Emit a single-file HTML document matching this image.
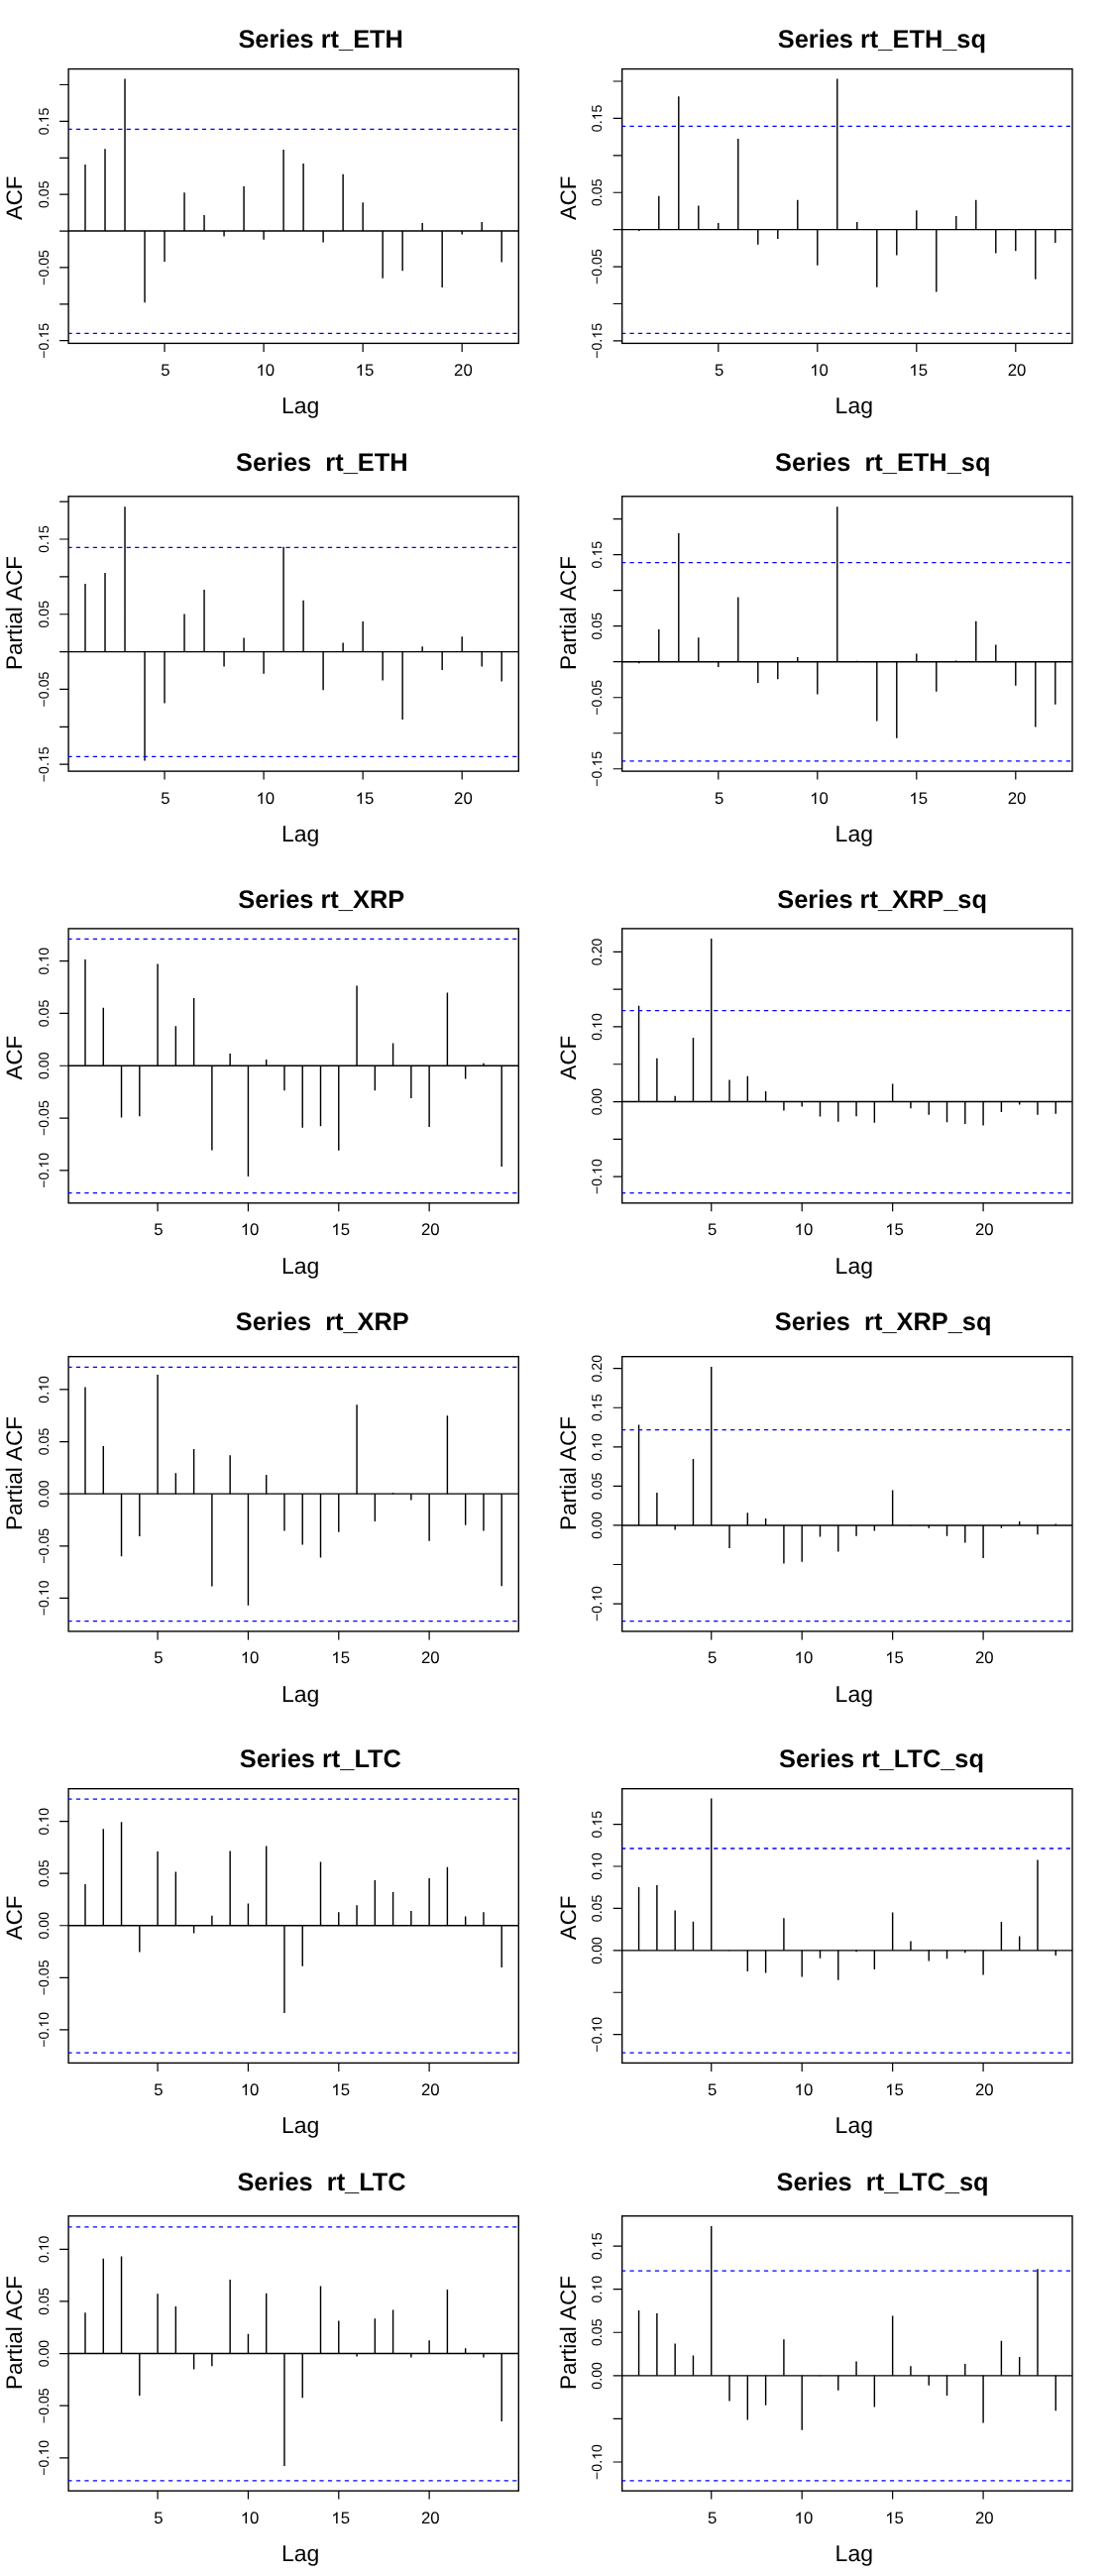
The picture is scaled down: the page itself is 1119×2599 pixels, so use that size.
<!DOCTYPE html><html><head><meta charset="utf-8"><style>html,body{margin:0;padding:0;background:#fff;}svg{display:block;}text{font-family:"Liberation Sans",sans-serif;}</style></head><body>
<svg width="1119" height="2599" viewBox="0 0 1119 2599" style="will-change:transform;text-rendering:geometricPrecision">
<rect width="1119" height="2599" fill="#fff"/>
<g><line x1="69.1" y1="233.05" x2="523.3" y2="233.05" stroke="#000" stroke-width="1.42"/><path d="M86 233.05V166M106.01 233.05V150.2M126.02 233.05V79.5M146.03 233.05V305.2M166.04 233.05V264M186.05 233.05V194.2M206.06 233.05V216.9M226.07 233.05V238.5M246.08 233.05V187.9M266.09 233.05V241.8M286.1 233.05V151.1M306.11 233.05V165M326.12 233.05V244.6M346.13 233.05V175.8M366.14 233.05V204.3M386.15 233.05V280.7M406.16 233.05V273.2M426.17 233.05V225.1M446.18 233.05V290M466.19 233.05V236.4M486.2 233.05V224M506.21 233.05V264.5" stroke="#000" stroke-width="1.42" fill="none"/><rect x="69.1" y="69.6" width="454.2" height="276.8" fill="none" stroke="#000" stroke-width="1.38"/><clipPath id="c3"><rect x="68.85" y="69.6" width="454.45" height="276.8"/></clipPath><line clip-path="url(#c3)" x1="68.4" y1="130.36" x2="523.3" y2="130.36" stroke="#0000ff" stroke-width="1.3" stroke-dasharray="4.2335 4.2335"/><line clip-path="url(#c3)" x1="68.4" y1="336.3" x2="523.3" y2="336.3" stroke="#0000ff" stroke-width="1.3" stroke-dasharray="4.2335 4.2335"/><path d="M60.1 85.51H69.1M60.1 122.39H69.1M60.1 159.28H69.1M60.1 196.16H69.1M60.1 233.05H69.1M60.1 269.94H69.1M60.1 306.82H69.1M60.1 343.71H69.1M166.04 346.4V354.9M266.09 346.4V354.9M366.14 346.4V354.9M466.19 346.4V354.9" stroke="#000" stroke-width="1.2" fill="none"/><g transform="translate(49 122.39) rotate(-90)"><text text-anchor="middle" font-size="14.2">0. 5</text><path transform="translate(-1.98 0) scale(0.006934 -0.006934)" d="M763 0L583 0L583 1102.4 Q518 1042.8 412.5 983.2 Q307 923.6 223 893.8 L223 1061.1 Q374 1129.3 484.5 1224.0 Q595 1318.7 645 1409.0 L763 1409.0Z"/></g><g transform="translate(49 196.16) rotate(-90)"><text text-anchor="middle" font-size="14.2">0.05</text></g><g transform="translate(49 269.94) rotate(-90)"><text text-anchor="middle" font-size="14.2">−0.05</text></g><g transform="translate(49 343.71) rotate(-90)"><text text-anchor="middle" font-size="14.2">−0. 5</text><path transform="translate(2.17 0) scale(0.006934 -0.006934)" d="M763 0L583 0L583 1102.4 Q518 1042.8 412.5 983.2 Q307 923.6 223 893.8 L223 1061.1 Q374 1129.3 484.5 1224.0 Q595 1318.7 645 1409.0 L763 1409.0Z"/></g><text x="166.84" y="379" text-anchor="middle" font-size="16.8">5</text><text x="267.79" y="379" text-anchor="middle" font-size="16.8"> 0</text><path transform="translate(258.45 379) scale(0.008203 -0.008203)" d="M763 0L583 0L583 1102.4 Q518 1042.8 412.5 983.2 Q307 923.6 223 893.8 L223 1061.1 Q374 1129.3 484.5 1224.0 Q595 1318.7 645 1409.0 L763 1409.0Z"/><text x="368.04" y="379" text-anchor="middle" font-size="16.8"> 5</text><path transform="translate(358.7 379) scale(0.008203 -0.008203)" d="M763 0L583 0L583 1102.4 Q518 1042.8 412.5 983.2 Q307 923.6 223 893.8 L223 1061.1 Q374 1129.3 484.5 1224.0 Q595 1318.7 645 1409.0 L763 1409.0Z"/><text x="467.39" y="379" text-anchor="middle" font-size="16.8">20</text><text x="283.96" y="417" font-size="23.0">Lag</text><text transform="translate(21.9 222.1) rotate(-90)" font-size="22.3" style="font-kerning:none">ACF</text><text x="240.41" y="48" font-size="25.4" font-weight="bold" xml:space="preserve">Series rt_ETH</text></g>
<g><line x1="627.7" y1="231.65" x2="1082" y2="231.65" stroke="#000" stroke-width="1.42"/><path d="M644.8 231.65V233.1M664.8 231.65V197.8M684.8 231.65V97.2M704.8 231.65V207.4M724.8 231.65V224.9M744.8 231.65V140.1M764.8 231.65V246.8M784.8 231.65V240.9M804.8 231.65V201.7M824.8 231.65V267.7M844.8 231.65V79.5M864.8 231.65V224M884.8 231.65V289.8M904.8 231.65V257.6M924.8 231.65V212.3M944.8 231.65V294.4M964.8 231.65V218M984.8 231.65V201.7M1004.8 231.65V255.4M1024.8 231.65V253.2M1044.8 231.65V281.8M1064.8 231.65V245" stroke="#000" stroke-width="1.42" fill="none"/><rect x="627.7" y="69.6" width="454.3" height="276.8" fill="none" stroke="#000" stroke-width="1.38"/><clipPath id="c4"><rect x="627.45" y="69.6" width="454.55" height="276.8"/></clipPath><line clip-path="url(#c4)" x1="627" y1="127.45" x2="1082" y2="127.45" stroke="#0000ff" stroke-width="1.3" stroke-dasharray="4.2335 4.2335"/><line clip-path="url(#c4)" x1="627" y1="336.4" x2="1082" y2="336.4" stroke="#0000ff" stroke-width="1.3" stroke-dasharray="4.2335 4.2335"/><path d="M618.7 81.99H627.7M618.7 119.41H627.7M618.7 156.82H627.7M618.7 194.24H627.7M618.7 231.65H627.7M618.7 269.06H627.7M618.7 306.48H627.7M618.7 343.89H627.7M724.8 346.4V354.9M824.8 346.4V354.9M924.8 346.4V354.9M1024.8 346.4V354.9" stroke="#000" stroke-width="1.2" fill="none"/><g transform="translate(607.3 119.41) rotate(-90)"><text text-anchor="middle" font-size="14.2">0. 5</text><path transform="translate(-1.98 0) scale(0.006934 -0.006934)" d="M763 0L583 0L583 1102.4 Q518 1042.8 412.5 983.2 Q307 923.6 223 893.8 L223 1061.1 Q374 1129.3 484.5 1224.0 Q595 1318.7 645 1409.0 L763 1409.0Z"/></g><g transform="translate(607.3 194.24) rotate(-90)"><text text-anchor="middle" font-size="14.2">0.05</text></g><g transform="translate(607.3 269.06) rotate(-90)"><text text-anchor="middle" font-size="14.2">−0.05</text></g><g transform="translate(607.3 343.89) rotate(-90)"><text text-anchor="middle" font-size="14.2">−0. 5</text><path transform="translate(2.17 0) scale(0.006934 -0.006934)" d="M763 0L583 0L583 1102.4 Q518 1042.8 412.5 983.2 Q307 923.6 223 893.8 L223 1061.1 Q374 1129.3 484.5 1224.0 Q595 1318.7 645 1409.0 L763 1409.0Z"/></g><text x="725.6" y="379" text-anchor="middle" font-size="16.8">5</text><text x="826.5" y="379" text-anchor="middle" font-size="16.8"> 0</text><path transform="translate(817.16 379) scale(0.008203 -0.008203)" d="M763 0L583 0L583 1102.4 Q518 1042.8 412.5 983.2 Q307 923.6 223 893.8 L223 1061.1 Q374 1129.3 484.5 1224.0 Q595 1318.7 645 1409.0 L763 1409.0Z"/><text x="926.7" y="379" text-anchor="middle" font-size="16.8"> 5</text><path transform="translate(917.36 379) scale(0.008203 -0.008203)" d="M763 0L583 0L583 1102.4 Q518 1042.8 412.5 983.2 Q307 923.6 223 893.8 L223 1061.1 Q374 1129.3 484.5 1224.0 Q595 1318.7 645 1409.0 L763 1409.0Z"/><text x="1026" y="379" text-anchor="middle" font-size="16.8">20</text><text x="842.61" y="417" font-size="23.0">Lag</text><text transform="translate(580.8 222.1) rotate(-90)" font-size="22.3" style="font-kerning:none">ACF</text><text x="784.71" y="48" font-size="25.4" font-weight="bold" xml:space="preserve">Series rt_ETH_sq</text></g>
<g><line x1="69.1" y1="657.6" x2="523.3" y2="657.6" stroke="#000" stroke-width="1.42"/><path d="M86 657.6V588.9M106.01 657.6V578.1M126.02 657.6V511.2M146.03 657.6V767.6M166.04 657.6V709.6M186.05 657.6V619.4M206.06 657.6V595M226.07 657.6V672.4M246.08 657.6V643.6M266.09 657.6V679.8M286.1 657.6V551.7M306.11 657.6V605.8M326.12 657.6V696.2M346.13 657.6V648.6M366.14 657.6V627M386.15 657.6V686.5M406.16 657.6V725.9M426.17 657.6V652.3M446.18 657.6V676.1M466.19 657.6V642.3M486.2 657.6V672.4M506.21 657.6V687.6" stroke="#000" stroke-width="1.42" fill="none"/><rect x="69.1" y="500.8" width="454.2" height="277.3" fill="none" stroke="#000" stroke-width="1.38"/><clipPath id="c5"><rect x="68.85" y="500.8" width="454.45" height="277.3"/></clipPath><line clip-path="url(#c5)" x1="68.4" y1="552.4" x2="523.3" y2="552.4" stroke="#0000ff" stroke-width="1.3" stroke-dasharray="4.2335 4.2335"/><line clip-path="url(#c5)" x1="68.4" y1="763.4" x2="523.3" y2="763.4" stroke="#0000ff" stroke-width="1.3" stroke-dasharray="4.2335 4.2335"/><path d="M60.1 506.11H69.1M60.1 543.99H69.1M60.1 581.86H69.1M60.1 619.73H69.1M60.1 657.6H69.1M60.1 695.47H69.1M60.1 733.34H69.1M60.1 771.21H69.1M166.04 778.1V786.6M266.09 778.1V786.6M366.14 778.1V786.6M466.19 778.1V786.6" stroke="#000" stroke-width="1.2" fill="none"/><g transform="translate(49 543.99) rotate(-90)"><text text-anchor="middle" font-size="14.2">0. 5</text><path transform="translate(-1.98 0) scale(0.006934 -0.006934)" d="M763 0L583 0L583 1102.4 Q518 1042.8 412.5 983.2 Q307 923.6 223 893.8 L223 1061.1 Q374 1129.3 484.5 1224.0 Q595 1318.7 645 1409.0 L763 1409.0Z"/></g><g transform="translate(49 619.73) rotate(-90)"><text text-anchor="middle" font-size="14.2">0.05</text></g><g transform="translate(49 695.47) rotate(-90)"><text text-anchor="middle" font-size="14.2">−0.05</text></g><g transform="translate(49 771.21) rotate(-90)"><text text-anchor="middle" font-size="14.2">−0. 5</text><path transform="translate(2.17 0) scale(0.006934 -0.006934)" d="M763 0L583 0L583 1102.4 Q518 1042.8 412.5 983.2 Q307 923.6 223 893.8 L223 1061.1 Q374 1129.3 484.5 1224.0 Q595 1318.7 645 1409.0 L763 1409.0Z"/></g><text x="166.84" y="811" text-anchor="middle" font-size="16.8">5</text><text x="267.79" y="811" text-anchor="middle" font-size="16.8"> 0</text><path transform="translate(258.45 811) scale(0.008203 -0.008203)" d="M763 0L583 0L583 1102.4 Q518 1042.8 412.5 983.2 Q307 923.6 223 893.8 L223 1061.1 Q374 1129.3 484.5 1224.0 Q595 1318.7 645 1409.0 L763 1409.0Z"/><text x="368.04" y="811" text-anchor="middle" font-size="16.8"> 5</text><path transform="translate(358.7 811) scale(0.008203 -0.008203)" d="M763 0L583 0L583 1102.4 Q518 1042.8 412.5 983.2 Q307 923.6 223 893.8 L223 1061.1 Q374 1129.3 484.5 1224.0 Q595 1318.7 645 1409.0 L763 1409.0Z"/><text x="467.39" y="811" text-anchor="middle" font-size="16.8">20</text><text x="283.96" y="849" font-size="23.0">Lag</text><text transform="translate(22.05 676.1) rotate(-90)" font-size="22.5" style="font-kerning:none">Partial ACF</text><text x="238.01" y="475" font-size="25.4" font-weight="bold" xml:space="preserve">Series  rt_ETH</text></g>
<g><line x1="627.7" y1="667.72" x2="1082" y2="667.72" stroke="#000" stroke-width="1.42"/><path d="M644.8 667.72V669.2M664.8 667.72V635M684.8 667.72V538M704.8 667.72V643.2M724.8 667.72V672.9M744.8 667.72V602.5M764.8 667.72V689.1M784.8 667.72V685.2M804.8 667.72V663.1M824.8 667.72V700.6M844.8 667.72V511.2M864.8 667.72V666.8M884.8 667.72V727.6M904.8 667.72V744.7M924.8 667.72V659.4M944.8 667.72V697.7M964.8 667.72V666.4M984.8 667.72V626.8M1004.8 667.72V650.4M1024.8 667.72V691.7M1044.8 667.72V733.4M1064.8 667.72V710.7" stroke="#000" stroke-width="1.42" fill="none"/><rect x="627.7" y="500.8" width="454.3" height="277.3" fill="none" stroke="#000" stroke-width="1.38"/><clipPath id="c6"><rect x="627.45" y="500.8" width="454.55" height="277.3"/></clipPath><line clip-path="url(#c6)" x1="627" y1="567.6" x2="1082" y2="567.6" stroke="#0000ff" stroke-width="1.3" stroke-dasharray="4.2335 4.2335"/><line clip-path="url(#c6)" x1="627" y1="767.9" x2="1082" y2="767.9" stroke="#0000ff" stroke-width="1.3" stroke-dasharray="4.2335 4.2335"/><path d="M618.7 523.66H627.7M618.7 559.68H627.7M618.7 595.69H627.7M618.7 631.71H627.7M618.7 667.72H627.7M618.7 703.73H627.7M618.7 739.75H627.7M618.7 775.76H627.7M724.8 778.1V786.6M824.8 778.1V786.6M924.8 778.1V786.6M1024.8 778.1V786.6" stroke="#000" stroke-width="1.2" fill="none"/><g transform="translate(607.3 559.68) rotate(-90)"><text text-anchor="middle" font-size="14.2">0. 5</text><path transform="translate(-1.98 0) scale(0.006934 -0.006934)" d="M763 0L583 0L583 1102.4 Q518 1042.8 412.5 983.2 Q307 923.6 223 893.8 L223 1061.1 Q374 1129.3 484.5 1224.0 Q595 1318.7 645 1409.0 L763 1409.0Z"/></g><g transform="translate(607.3 631.71) rotate(-90)"><text text-anchor="middle" font-size="14.2">0.05</text></g><g transform="translate(607.3 703.73) rotate(-90)"><text text-anchor="middle" font-size="14.2">−0.05</text></g><g transform="translate(607.3 775.76) rotate(-90)"><text text-anchor="middle" font-size="14.2">−0. 5</text><path transform="translate(2.17 0) scale(0.006934 -0.006934)" d="M763 0L583 0L583 1102.4 Q518 1042.8 412.5 983.2 Q307 923.6 223 893.8 L223 1061.1 Q374 1129.3 484.5 1224.0 Q595 1318.7 645 1409.0 L763 1409.0Z"/></g><text x="725.6" y="811" text-anchor="middle" font-size="16.8">5</text><text x="826.5" y="811" text-anchor="middle" font-size="16.8"> 0</text><path transform="translate(817.16 811) scale(0.008203 -0.008203)" d="M763 0L583 0L583 1102.4 Q518 1042.8 412.5 983.2 Q307 923.6 223 893.8 L223 1061.1 Q374 1129.3 484.5 1224.0 Q595 1318.7 645 1409.0 L763 1409.0Z"/><text x="926.7" y="811" text-anchor="middle" font-size="16.8"> 5</text><path transform="translate(917.36 811) scale(0.008203 -0.008203)" d="M763 0L583 0L583 1102.4 Q518 1042.8 412.5 983.2 Q307 923.6 223 893.8 L223 1061.1 Q374 1129.3 484.5 1224.0 Q595 1318.7 645 1409.0 L763 1409.0Z"/><text x="1026" y="811" text-anchor="middle" font-size="16.8">20</text><text x="842.61" y="849" font-size="23.0">Lag</text><text transform="translate(580.9 676.1) rotate(-90)" font-size="22.5" style="font-kerning:none">Partial ACF</text><text x="782.11" y="475" font-size="25.4" font-weight="bold" xml:space="preserve">Series  rt_ETH_sq</text></g>
<g><line x1="69.1" y1="1075.25" x2="523.3" y2="1075.25" stroke="#000" stroke-width="1.42"/><path d="M86 1075.25V967.9M104.27 1075.25V1016.8M122.54 1075.25V1127.4M140.81 1075.25V1126.3M159.08 1075.25V972.4M177.35 1075.25V1035.2M195.62 1075.25V1007M213.89 1075.25V1160.5M232.16 1075.25V1063.1M250.43 1075.25V1186.9M268.7 1075.25V1068.9M286.97 1075.25V1100.3M305.24 1075.25V1137.7M323.51 1075.25V1136.2M341.78 1075.25V1160.7M360.05 1075.25V994.5M378.32 1075.25V1100.3M396.59 1075.25V1052.5M414.86 1075.25V1107.9M433.13 1075.25V1137.1M451.4 1075.25V1001.4M469.67 1075.25V1088.6M487.94 1075.25V1072.8M506.21 1075.25V1177.1" stroke="#000" stroke-width="1.42" fill="none"/><rect x="69.1" y="936.9" width="454.2" height="276.9" fill="none" stroke="#000" stroke-width="1.38"/><clipPath id="c7"><rect x="68.85" y="936.9" width="454.45" height="276.9"/></clipPath><line clip-path="url(#c7)" x1="68.4" y1="947.4" x2="523.3" y2="947.4" stroke="#0000ff" stroke-width="1.3" stroke-dasharray="4.2335 4.2335"/><line clip-path="url(#c7)" x1="68.4" y1="1203.6" x2="523.3" y2="1203.6" stroke="#0000ff" stroke-width="1.3" stroke-dasharray="4.2335 4.2335"/><path d="M60.1 969.65H69.1M60.1 1022.45H69.1M60.1 1075.25H69.1M60.1 1128.05H69.1M60.1 1180.85H69.1M159.08 1213.8V1222.3M250.43 1213.8V1222.3M341.78 1213.8V1222.3M433.13 1213.8V1222.3" stroke="#000" stroke-width="1.2" fill="none"/><g transform="translate(49 969.65) rotate(-90)"><text text-anchor="middle" font-size="14.2">0. 0</text><path transform="translate(-1.98 0) scale(0.006934 -0.006934)" d="M763 0L583 0L583 1102.4 Q518 1042.8 412.5 983.2 Q307 923.6 223 893.8 L223 1061.1 Q374 1129.3 484.5 1224.0 Q595 1318.7 645 1409.0 L763 1409.0Z"/></g><g transform="translate(49 1022.45) rotate(-90)"><text text-anchor="middle" font-size="14.2">0.05</text></g><g transform="translate(49 1075.25) rotate(-90)"><text text-anchor="middle" font-size="14.2">0.00</text></g><g transform="translate(49 1128.05) rotate(-90)"><text text-anchor="middle" font-size="14.2">−0.05</text></g><g transform="translate(49 1180.85) rotate(-90)"><text text-anchor="middle" font-size="14.2">−0. 0</text><path transform="translate(2.17 0) scale(0.006934 -0.006934)" d="M763 0L583 0L583 1102.4 Q518 1042.8 412.5 983.2 Q307 923.6 223 893.8 L223 1061.1 Q374 1129.3 484.5 1224.0 Q595 1318.7 645 1409.0 L763 1409.0Z"/></g><text x="159.88" y="1246" text-anchor="middle" font-size="16.8">5</text><text x="252.13" y="1246" text-anchor="middle" font-size="16.8"> 0</text><path transform="translate(242.79 1246) scale(0.008203 -0.008203)" d="M763 0L583 0L583 1102.4 Q518 1042.8 412.5 983.2 Q307 923.6 223 893.8 L223 1061.1 Q374 1129.3 484.5 1224.0 Q595 1318.7 645 1409.0 L763 1409.0Z"/><text x="343.68" y="1246" text-anchor="middle" font-size="16.8"> 5</text><path transform="translate(334.34 1246) scale(0.008203 -0.008203)" d="M763 0L583 0L583 1102.4 Q518 1042.8 412.5 983.2 Q307 923.6 223 893.8 L223 1061.1 Q374 1129.3 484.5 1224.0 Q595 1318.7 645 1409.0 L763 1409.0Z"/><text x="434.33" y="1246" text-anchor="middle" font-size="16.8">20</text><text x="283.96" y="1285" font-size="23.0">Lag</text><text transform="translate(21.9 1089.45) rotate(-90)" font-size="22.3" style="font-kerning:none">ACF</text><text x="240.21" y="916" font-size="25.4" font-weight="bold" xml:space="preserve">Series rt_XRP</text></g>
<g><line x1="627.7" y1="1111.55" x2="1082" y2="1111.55" stroke="#000" stroke-width="1.42"/><path d="M644.59 1111.55V1014.8M662.88 1111.55V1067.8M681.17 1111.55V1105.7M699.46 1111.55V1047.1M717.75 1111.55V946.9M736.04 1111.55V1089.5M754.33 1111.55V1085.8M772.62 1111.55V1101M790.91 1111.55V1120.4M809.2 1111.55V1116.5M827.49 1111.55V1126.5M845.78 1111.55V1131.7M864.07 1111.55V1126.3M882.36 1111.55V1132.8M900.65 1111.55V1093.4M918.94 1111.55V1118.3M937.23 1111.55V1124.8M955.52 1111.55V1132.3M973.81 1111.55V1134.1M992.1 1111.55V1135.6M1010.39 1111.55V1121.9M1028.68 1111.55V1114.4M1046.97 1111.55V1124.8M1065.26 1111.55V1123.7" stroke="#000" stroke-width="1.42" fill="none"/><rect x="627.7" y="936.9" width="454.3" height="276.9" fill="none" stroke="#000" stroke-width="1.38"/><clipPath id="c8"><rect x="627.45" y="936.9" width="454.55" height="276.9"/></clipPath><line clip-path="url(#c8)" x1="627" y1="1019.7" x2="1082" y2="1019.7" stroke="#0000ff" stroke-width="1.3" stroke-dasharray="4.2335 4.2335"/><line clip-path="url(#c8)" x1="627" y1="1203.6" x2="1082" y2="1203.6" stroke="#0000ff" stroke-width="1.3" stroke-dasharray="4.2335 4.2335"/><path d="M618.7 960.35H627.7M618.7 998.15H627.7M618.7 1035.95H627.7M618.7 1073.75H627.7M618.7 1111.55H627.7M618.7 1149.35H627.7M618.7 1187.15H627.7M717.75 1213.8V1222.3M809.2 1213.8V1222.3M900.65 1213.8V1222.3M992.1 1213.8V1222.3" stroke="#000" stroke-width="1.2" fill="none"/><g transform="translate(607.3 960.35) rotate(-90)"><text text-anchor="middle" font-size="14.2">0.20</text></g><g transform="translate(607.3 1035.95) rotate(-90)"><text text-anchor="middle" font-size="14.2">0. 0</text><path transform="translate(-1.98 0) scale(0.006934 -0.006934)" d="M763 0L583 0L583 1102.4 Q518 1042.8 412.5 983.2 Q307 923.6 223 893.8 L223 1061.1 Q374 1129.3 484.5 1224.0 Q595 1318.7 645 1409.0 L763 1409.0Z"/></g><g transform="translate(607.3 1111.55) rotate(-90)"><text text-anchor="middle" font-size="14.2">0.00</text></g><g transform="translate(607.3 1187.15) rotate(-90)"><text text-anchor="middle" font-size="14.2">−0. 0</text><path transform="translate(2.17 0) scale(0.006934 -0.006934)" d="M763 0L583 0L583 1102.4 Q518 1042.8 412.5 983.2 Q307 923.6 223 893.8 L223 1061.1 Q374 1129.3 484.5 1224.0 Q595 1318.7 645 1409.0 L763 1409.0Z"/></g><text x="718.55" y="1246" text-anchor="middle" font-size="16.8">5</text><text x="810.9" y="1246" text-anchor="middle" font-size="16.8"> 0</text><path transform="translate(801.56 1246) scale(0.008203 -0.008203)" d="M763 0L583 0L583 1102.4 Q518 1042.8 412.5 983.2 Q307 923.6 223 893.8 L223 1061.1 Q374 1129.3 484.5 1224.0 Q595 1318.7 645 1409.0 L763 1409.0Z"/><text x="902.55" y="1246" text-anchor="middle" font-size="16.8"> 5</text><path transform="translate(893.21 1246) scale(0.008203 -0.008203)" d="M763 0L583 0L583 1102.4 Q518 1042.8 412.5 983.2 Q307 923.6 223 893.8 L223 1061.1 Q374 1129.3 484.5 1224.0 Q595 1318.7 645 1409.0 L763 1409.0Z"/><text x="993.3" y="1246" text-anchor="middle" font-size="16.8">20</text><text x="842.61" y="1285" font-size="23.0">Lag</text><text transform="translate(580.8 1089.45) rotate(-90)" font-size="22.3" style="font-kerning:none">ACF</text><text x="784.31" y="916" font-size="25.4" font-weight="bold" xml:space="preserve">Series rt_XRP_sq</text></g>
<g><line x1="69.1" y1="1507.15" x2="523.3" y2="1507.15" stroke="#000" stroke-width="1.42"/><path d="M86 1507.15V1399.6M104.27 1507.15V1459.1M122.54 1507.15V1570.3M140.81 1507.15V1550M159.08 1507.15V1387.1M177.35 1507.15V1486.2M195.62 1507.15V1462.1M213.89 1507.15V1600.4M232.16 1507.15V1468.2M250.43 1507.15V1619.7M268.7 1507.15V1488.1M286.97 1507.15V1544.4M305.24 1507.15V1558.4M323.51 1507.15V1571.6M341.78 1507.15V1545.7M360.05 1507.15V1417.3M378.32 1507.15V1534.9M396.59 1507.15V1506.3M414.86 1507.15V1513.6M433.13 1507.15V1554.8M451.4 1507.15V1428.2M469.67 1507.15V1538.7M487.94 1507.15V1544.6M506.21 1507.15V1600.2" stroke="#000" stroke-width="1.42" fill="none"/><rect x="69.1" y="1368.7" width="454.2" height="277.2" fill="none" stroke="#000" stroke-width="1.38"/><clipPath id="c9"><rect x="68.85" y="1368.7" width="454.45" height="277.2"/></clipPath><line clip-path="url(#c9)" x1="68.4" y1="1379.3" x2="523.3" y2="1379.3" stroke="#0000ff" stroke-width="1.3" stroke-dasharray="4.2335 4.2335"/><line clip-path="url(#c9)" x1="68.4" y1="1635.6" x2="523.3" y2="1635.6" stroke="#0000ff" stroke-width="1.3" stroke-dasharray="4.2335 4.2335"/><path d="M60.1 1401.9H69.1M60.1 1454.53H69.1M60.1 1507.15H69.1M60.1 1559.78H69.1M60.1 1612.4H69.1M159.08 1645.9V1654.4M250.43 1645.9V1654.4M341.78 1645.9V1654.4M433.13 1645.9V1654.4" stroke="#000" stroke-width="1.2" fill="none"/><g transform="translate(49 1401.9) rotate(-90)"><text text-anchor="middle" font-size="14.2">0. 0</text><path transform="translate(-1.98 0) scale(0.006934 -0.006934)" d="M763 0L583 0L583 1102.4 Q518 1042.8 412.5 983.2 Q307 923.6 223 893.8 L223 1061.1 Q374 1129.3 484.5 1224.0 Q595 1318.7 645 1409.0 L763 1409.0Z"/></g><g transform="translate(49 1454.53) rotate(-90)"><text text-anchor="middle" font-size="14.2">0.05</text></g><g transform="translate(49 1507.15) rotate(-90)"><text text-anchor="middle" font-size="14.2">0.00</text></g><g transform="translate(49 1559.78) rotate(-90)"><text text-anchor="middle" font-size="14.2">−0.05</text></g><g transform="translate(49 1612.4) rotate(-90)"><text text-anchor="middle" font-size="14.2">−0. 0</text><path transform="translate(2.17 0) scale(0.006934 -0.006934)" d="M763 0L583 0L583 1102.4 Q518 1042.8 412.5 983.2 Q307 923.6 223 893.8 L223 1061.1 Q374 1129.3 484.5 1224.0 Q595 1318.7 645 1409.0 L763 1409.0Z"/></g><text x="159.88" y="1678" text-anchor="middle" font-size="16.8">5</text><text x="252.13" y="1678" text-anchor="middle" font-size="16.8"> 0</text><path transform="translate(242.79 1678) scale(0.008203 -0.008203)" d="M763 0L583 0L583 1102.4 Q518 1042.8 412.5 983.2 Q307 923.6 223 893.8 L223 1061.1 Q374 1129.3 484.5 1224.0 Q595 1318.7 645 1409.0 L763 1409.0Z"/><text x="343.68" y="1678" text-anchor="middle" font-size="16.8"> 5</text><path transform="translate(334.34 1678) scale(0.008203 -0.008203)" d="M763 0L583 0L583 1102.4 Q518 1042.8 412.5 983.2 Q307 923.6 223 893.8 L223 1061.1 Q374 1129.3 484.5 1224.0 Q595 1318.7 645 1409.0 L763 1409.0Z"/><text x="434.33" y="1678" text-anchor="middle" font-size="16.8">20</text><text x="283.96" y="1717" font-size="23.0">Lag</text><text transform="translate(22.05 1543.95) rotate(-90)" font-size="22.5" style="font-kerning:none">Partial ACF</text><text x="237.81" y="1342" font-size="25.4" font-weight="bold" xml:space="preserve">Series  rt_XRP</text></g>
<g><line x1="627.7" y1="1538.95" x2="1082" y2="1538.95" stroke="#000" stroke-width="1.42"/><path d="M644.59 1538.95V1437.5M662.88 1538.95V1506.1M681.17 1538.95V1543.5M699.46 1538.95V1472.1M717.75 1538.95V1379M736.04 1538.95V1561.9M754.33 1538.95V1526.2M772.62 1538.95V1532M790.91 1538.95V1577.5M809.2 1538.95V1575.8M827.49 1538.95V1550.4M845.78 1538.95V1565.6M864.07 1538.95V1549.8M882.36 1538.95V1544.6M900.65 1538.95V1503.5M918.94 1538.95V1539.6M937.23 1538.95V1541.8M955.52 1538.95V1549.8M973.81 1538.95V1556.5M992.1 1538.95V1572.1M1010.39 1538.95V1541.8M1028.68 1538.95V1534.9M1046.97 1538.95V1548.3M1065.26 1538.95V1537.4" stroke="#000" stroke-width="1.42" fill="none"/><rect x="627.7" y="1368.7" width="454.3" height="277.2" fill="none" stroke="#000" stroke-width="1.38"/><clipPath id="c10"><rect x="627.45" y="1368.7" width="454.55" height="277.2"/></clipPath><line clip-path="url(#c10)" x1="627" y1="1442.7" x2="1082" y2="1442.7" stroke="#0000ff" stroke-width="1.3" stroke-dasharray="4.2335 4.2335"/><line clip-path="url(#c10)" x1="627" y1="1635.6" x2="1082" y2="1635.6" stroke="#0000ff" stroke-width="1.3" stroke-dasharray="4.2335 4.2335"/><path d="M618.7 1380.68H627.7M618.7 1420.25H627.7M618.7 1459.82H627.7M618.7 1499.38H627.7M618.7 1538.95H627.7M618.7 1578.52H627.7M618.7 1618.08H627.7M717.75 1645.9V1654.4M809.2 1645.9V1654.4M900.65 1645.9V1654.4M992.1 1645.9V1654.4" stroke="#000" stroke-width="1.2" fill="none"/><g transform="translate(607.3 1380.68) rotate(-90)"><text text-anchor="middle" font-size="14.2">0.20</text></g><g transform="translate(607.3 1420.25) rotate(-90)"><text text-anchor="middle" font-size="14.2">0. 5</text><path transform="translate(-1.98 0) scale(0.006934 -0.006934)" d="M763 0L583 0L583 1102.4 Q518 1042.8 412.5 983.2 Q307 923.6 223 893.8 L223 1061.1 Q374 1129.3 484.5 1224.0 Q595 1318.7 645 1409.0 L763 1409.0Z"/></g><g transform="translate(607.3 1459.82) rotate(-90)"><text text-anchor="middle" font-size="14.2">0. 0</text><path transform="translate(-1.98 0) scale(0.006934 -0.006934)" d="M763 0L583 0L583 1102.4 Q518 1042.8 412.5 983.2 Q307 923.6 223 893.8 L223 1061.1 Q374 1129.3 484.5 1224.0 Q595 1318.7 645 1409.0 L763 1409.0Z"/></g><g transform="translate(607.3 1499.38) rotate(-90)"><text text-anchor="middle" font-size="14.2">0.05</text></g><g transform="translate(607.3 1538.95) rotate(-90)"><text text-anchor="middle" font-size="14.2">0.00</text></g><g transform="translate(607.3 1618.08) rotate(-90)"><text text-anchor="middle" font-size="14.2">−0. 0</text><path transform="translate(2.17 0) scale(0.006934 -0.006934)" d="M763 0L583 0L583 1102.4 Q518 1042.8 412.5 983.2 Q307 923.6 223 893.8 L223 1061.1 Q374 1129.3 484.5 1224.0 Q595 1318.7 645 1409.0 L763 1409.0Z"/></g><text x="718.55" y="1678" text-anchor="middle" font-size="16.8">5</text><text x="810.9" y="1678" text-anchor="middle" font-size="16.8"> 0</text><path transform="translate(801.56 1678) scale(0.008203 -0.008203)" d="M763 0L583 0L583 1102.4 Q518 1042.8 412.5 983.2 Q307 923.6 223 893.8 L223 1061.1 Q374 1129.3 484.5 1224.0 Q595 1318.7 645 1409.0 L763 1409.0Z"/><text x="902.55" y="1678" text-anchor="middle" font-size="16.8"> 5</text><path transform="translate(893.21 1678) scale(0.008203 -0.008203)" d="M763 0L583 0L583 1102.4 Q518 1042.8 412.5 983.2 Q307 923.6 223 893.8 L223 1061.1 Q374 1129.3 484.5 1224.0 Q595 1318.7 645 1409.0 L763 1409.0Z"/><text x="993.3" y="1678" text-anchor="middle" font-size="16.8">20</text><text x="842.61" y="1717" font-size="23.0">Lag</text><text transform="translate(580.9 1543.95) rotate(-90)" font-size="22.5" style="font-kerning:none">Partial ACF</text><text x="781.71" y="1342" font-size="25.4" font-weight="bold" xml:space="preserve">Series  rt_XRP_sq</text></g>
<g><line x1="69.1" y1="1942.75" x2="523.3" y2="1942.75" stroke="#000" stroke-width="1.42"/><path d="M86 1942.75V1901M104.27 1942.75V1845.2M122.54 1942.75V1838.3M140.81 1942.75V1969.6M159.08 1942.75V1867.9M177.35 1942.75V1888.5M195.62 1942.75V1950.4M213.89 1942.75V1932.8M232.16 1942.75V1867.5M250.43 1942.75V1920.5M268.7 1942.75V1862.5M286.97 1942.75V2030.9M305.24 1942.75V1983.7M323.51 1942.75V1878.5M341.78 1942.75V1929.2M360.05 1942.75V1922.2M378.32 1942.75V1897.1M396.59 1942.75V1909M414.86 1942.75V1928.1M433.13 1942.75V1895M451.4 1942.75V1883.7M469.67 1942.75V1933.5M487.94 1942.75V1929.2M506.21 1942.75V1985" stroke="#000" stroke-width="1.42" fill="none"/><rect x="69.1" y="1804.7" width="454.2" height="276.7" fill="none" stroke="#000" stroke-width="1.38"/><clipPath id="c11"><rect x="68.85" y="1804.7" width="454.45" height="276.7"/></clipPath><line clip-path="url(#c11)" x1="68.4" y1="1815.2" x2="523.3" y2="1815.2" stroke="#0000ff" stroke-width="1.3" stroke-dasharray="4.2335 4.2335"/><line clip-path="url(#c11)" x1="68.4" y1="2071.2" x2="523.3" y2="2071.2" stroke="#0000ff" stroke-width="1.3" stroke-dasharray="4.2335 4.2335"/><path d="M60.1 1837.65H69.1M60.1 1890.2H69.1M60.1 1942.75H69.1M60.1 1995.3H69.1M60.1 2047.85H69.1M159.08 2081.4V2089.9M250.43 2081.4V2089.9M341.78 2081.4V2089.9M433.13 2081.4V2089.9" stroke="#000" stroke-width="1.2" fill="none"/><g transform="translate(49 1837.65) rotate(-90)"><text text-anchor="middle" font-size="14.2">0. 0</text><path transform="translate(-1.98 0) scale(0.006934 -0.006934)" d="M763 0L583 0L583 1102.4 Q518 1042.8 412.5 983.2 Q307 923.6 223 893.8 L223 1061.1 Q374 1129.3 484.5 1224.0 Q595 1318.7 645 1409.0 L763 1409.0Z"/></g><g transform="translate(49 1890.2) rotate(-90)"><text text-anchor="middle" font-size="14.2">0.05</text></g><g transform="translate(49 1942.75) rotate(-90)"><text text-anchor="middle" font-size="14.2">0.00</text></g><g transform="translate(49 1995.3) rotate(-90)"><text text-anchor="middle" font-size="14.2">−0.05</text></g><g transform="translate(49 2047.85) rotate(-90)"><text text-anchor="middle" font-size="14.2">−0. 0</text><path transform="translate(2.17 0) scale(0.006934 -0.006934)" d="M763 0L583 0L583 1102.4 Q518 1042.8 412.5 983.2 Q307 923.6 223 893.8 L223 1061.1 Q374 1129.3 484.5 1224.0 Q595 1318.7 645 1409.0 L763 1409.0Z"/></g><text x="159.88" y="2114" text-anchor="middle" font-size="16.8">5</text><text x="252.13" y="2114" text-anchor="middle" font-size="16.8"> 0</text><path transform="translate(242.79 2114) scale(0.008203 -0.008203)" d="M763 0L583 0L583 1102.4 Q518 1042.8 412.5 983.2 Q307 923.6 223 893.8 L223 1061.1 Q374 1129.3 484.5 1224.0 Q595 1318.7 645 1409.0 L763 1409.0Z"/><text x="343.68" y="2114" text-anchor="middle" font-size="16.8"> 5</text><path transform="translate(334.34 2114) scale(0.008203 -0.008203)" d="M763 0L583 0L583 1102.4 Q518 1042.8 412.5 983.2 Q307 923.6 223 893.8 L223 1061.1 Q374 1129.3 484.5 1224.0 Q595 1318.7 645 1409.0 L763 1409.0Z"/><text x="434.33" y="2114" text-anchor="middle" font-size="16.8">20</text><text x="283.96" y="2152" font-size="23.0">Lag</text><text transform="translate(21.9 1957.15) rotate(-90)" font-size="22.3" style="font-kerning:none">ACF</text><text x="241.71" y="1783" font-size="25.4" font-weight="bold" xml:space="preserve">Series rt_LTC</text></g>
<g><line x1="627.7" y1="1967.85" x2="1082" y2="1967.85" stroke="#000" stroke-width="1.42"/><path d="M644.59 1967.85V1903.9M662.88 1967.85V1901.9M681.17 1967.85V1927.4M699.46 1967.85V1938.7M717.75 1967.85V1814.5M736.04 1967.85V1968.3M754.33 1967.85V1989.1M772.62 1967.85V1990.4M790.91 1967.85V1935.2M809.2 1967.85V1994.5M827.49 1967.85V1975.7M845.78 1967.85V1997.8M864.07 1967.85V1969.2M882.36 1967.85V1986.9M900.65 1967.85V1929.6M918.94 1967.85V1958.4M937.23 1967.85V1978.5M955.52 1967.85V1976.3M973.81 1967.85V1970.3M992.1 1967.85V1992.6M1010.39 1967.85V1938.9M1028.68 1967.85V1953.4M1046.97 1967.85V1876.4M1065.26 1967.85V1973.1" stroke="#000" stroke-width="1.42" fill="none"/><rect x="627.7" y="1804.7" width="454.3" height="276.7" fill="none" stroke="#000" stroke-width="1.38"/><clipPath id="c12"><rect x="627.45" y="1804.7" width="454.55" height="276.7"/></clipPath><line clip-path="url(#c12)" x1="627" y1="1865" x2="1082" y2="1865" stroke="#0000ff" stroke-width="1.3" stroke-dasharray="4.2335 4.2335"/><line clip-path="url(#c12)" x1="627" y1="2071.2" x2="1082" y2="2071.2" stroke="#0000ff" stroke-width="1.3" stroke-dasharray="4.2335 4.2335"/><path d="M618.7 1840.59H627.7M618.7 1883.01H627.7M618.7 1925.43H627.7M618.7 1967.85H627.7M618.7 2010.27H627.7M618.7 2052.69H627.7M717.75 2081.4V2089.9M809.2 2081.4V2089.9M900.65 2081.4V2089.9M992.1 2081.4V2089.9" stroke="#000" stroke-width="1.2" fill="none"/><g transform="translate(607.3 1840.59) rotate(-90)"><text text-anchor="middle" font-size="14.2">0. 5</text><path transform="translate(-1.98 0) scale(0.006934 -0.006934)" d="M763 0L583 0L583 1102.4 Q518 1042.8 412.5 983.2 Q307 923.6 223 893.8 L223 1061.1 Q374 1129.3 484.5 1224.0 Q595 1318.7 645 1409.0 L763 1409.0Z"/></g><g transform="translate(607.3 1883.01) rotate(-90)"><text text-anchor="middle" font-size="14.2">0. 0</text><path transform="translate(-1.98 0) scale(0.006934 -0.006934)" d="M763 0L583 0L583 1102.4 Q518 1042.8 412.5 983.2 Q307 923.6 223 893.8 L223 1061.1 Q374 1129.3 484.5 1224.0 Q595 1318.7 645 1409.0 L763 1409.0Z"/></g><g transform="translate(607.3 1925.43) rotate(-90)"><text text-anchor="middle" font-size="14.2">0.05</text></g><g transform="translate(607.3 1967.85) rotate(-90)"><text text-anchor="middle" font-size="14.2">0.00</text></g><g transform="translate(607.3 2052.69) rotate(-90)"><text text-anchor="middle" font-size="14.2">−0. 0</text><path transform="translate(2.17 0) scale(0.006934 -0.006934)" d="M763 0L583 0L583 1102.4 Q518 1042.8 412.5 983.2 Q307 923.6 223 893.8 L223 1061.1 Q374 1129.3 484.5 1224.0 Q595 1318.7 645 1409.0 L763 1409.0Z"/></g><text x="718.55" y="2114" text-anchor="middle" font-size="16.8">5</text><text x="810.9" y="2114" text-anchor="middle" font-size="16.8"> 0</text><path transform="translate(801.56 2114) scale(0.008203 -0.008203)" d="M763 0L583 0L583 1102.4 Q518 1042.8 412.5 983.2 Q307 923.6 223 893.8 L223 1061.1 Q374 1129.3 484.5 1224.0 Q595 1318.7 645 1409.0 L763 1409.0Z"/><text x="902.55" y="2114" text-anchor="middle" font-size="16.8"> 5</text><path transform="translate(893.21 2114) scale(0.008203 -0.008203)" d="M763 0L583 0L583 1102.4 Q518 1042.8 412.5 983.2 Q307 923.6 223 893.8 L223 1061.1 Q374 1129.3 484.5 1224.0 Q595 1318.7 645 1409.0 L763 1409.0Z"/><text x="993.3" y="2114" text-anchor="middle" font-size="16.8">20</text><text x="842.61" y="2152" font-size="23.0">Lag</text><text transform="translate(580.8 1957.15) rotate(-90)" font-size="22.3" style="font-kerning:none">ACF</text><text x="786.01" y="1783" font-size="25.4" font-weight="bold" xml:space="preserve">Series rt_LTC_sq</text></g>
<g><line x1="69.1" y1="2374.55" x2="523.3" y2="2374.55" stroke="#000" stroke-width="1.42"/><path d="M86 2374.55V2333.2M104.27 2374.55V2278.7M122.54 2374.55V2276.5M140.81 2374.55V2416.9M159.08 2374.55V2314.2M177.35 2374.55V2327.1M195.62 2374.55V2390.5M213.89 2374.55V2387.3M232.16 2374.55V2299.9M250.43 2374.55V2354.8M268.7 2374.55V2313.7M286.97 2374.55V2487.9M305.24 2374.55V2419.3M323.51 2374.55V2306.6M341.78 2374.55V2341.4M360.05 2374.55V2377.6M378.32 2374.55V2339.3M396.59 2374.55V2330.4M414.86 2374.55V2378.6M433.13 2374.55V2361.3M451.4 2374.55V2310M469.67 2374.55V2369.3M487.94 2374.55V2378.6M506.21 2374.55V2442.9" stroke="#000" stroke-width="1.42" fill="none"/><rect x="69.1" y="2235.8" width="454.2" height="277.3" fill="none" stroke="#000" stroke-width="1.38"/><clipPath id="c13"><rect x="68.85" y="2235.8" width="454.45" height="277.3"/></clipPath><line clip-path="url(#c13)" x1="68.4" y1="2246.9" x2="523.3" y2="2246.9" stroke="#0000ff" stroke-width="1.3" stroke-dasharray="4.2335 4.2335"/><line clip-path="url(#c13)" x1="68.4" y1="2502.9" x2="523.3" y2="2502.9" stroke="#0000ff" stroke-width="1.3" stroke-dasharray="4.2335 4.2335"/><path d="M60.1 2269.3H69.1M60.1 2321.93H69.1M60.1 2374.55H69.1M60.1 2427.18H69.1M60.1 2479.8H69.1M159.08 2513.1V2521.6M250.43 2513.1V2521.6M341.78 2513.1V2521.6M433.13 2513.1V2521.6" stroke="#000" stroke-width="1.2" fill="none"/><g transform="translate(49 2269.3) rotate(-90)"><text text-anchor="middle" font-size="14.2">0. 0</text><path transform="translate(-1.98 0) scale(0.006934 -0.006934)" d="M763 0L583 0L583 1102.4 Q518 1042.8 412.5 983.2 Q307 923.6 223 893.8 L223 1061.1 Q374 1129.3 484.5 1224.0 Q595 1318.7 645 1409.0 L763 1409.0Z"/></g><g transform="translate(49 2321.93) rotate(-90)"><text text-anchor="middle" font-size="14.2">0.05</text></g><g transform="translate(49 2374.55) rotate(-90)"><text text-anchor="middle" font-size="14.2">0.00</text></g><g transform="translate(49 2427.18) rotate(-90)"><text text-anchor="middle" font-size="14.2">−0.05</text></g><g transform="translate(49 2479.8) rotate(-90)"><text text-anchor="middle" font-size="14.2">−0. 0</text><path transform="translate(2.17 0) scale(0.006934 -0.006934)" d="M763 0L583 0L583 1102.4 Q518 1042.8 412.5 983.2 Q307 923.6 223 893.8 L223 1061.1 Q374 1129.3 484.5 1224.0 Q595 1318.7 645 1409.0 L763 1409.0Z"/></g><text x="159.88" y="2546" text-anchor="middle" font-size="16.8">5</text><text x="252.13" y="2546" text-anchor="middle" font-size="16.8"> 0</text><path transform="translate(242.79 2546) scale(0.008203 -0.008203)" d="M763 0L583 0L583 1102.4 Q518 1042.8 412.5 983.2 Q307 923.6 223 893.8 L223 1061.1 Q374 1129.3 484.5 1224.0 Q595 1318.7 645 1409.0 L763 1409.0Z"/><text x="343.68" y="2546" text-anchor="middle" font-size="16.8"> 5</text><path transform="translate(334.34 2546) scale(0.008203 -0.008203)" d="M763 0L583 0L583 1102.4 Q518 1042.8 412.5 983.2 Q307 923.6 223 893.8 L223 1061.1 Q374 1129.3 484.5 1224.0 Q595 1318.7 645 1409.0 L763 1409.0Z"/><text x="434.33" y="2546" text-anchor="middle" font-size="16.8">20</text><text x="283.96" y="2584" font-size="23.0">Lag</text><text transform="translate(22.05 2411.1) rotate(-90)" font-size="22.5" style="font-kerning:none">Partial ACF</text><text x="239.41" y="2210" font-size="25.4" font-weight="bold" xml:space="preserve">Series  rt_LTC</text></g>
<g><line x1="627.7" y1="2396.85" x2="1082" y2="2396.85" stroke="#000" stroke-width="1.42"/><path d="M644.59 2396.85V2331M662.88 2396.85V2334.1M681.17 2396.85V2364.6M699.46 2396.85V2376.5M717.75 2396.85V2246M736.04 2396.85V2422.4M754.33 2396.85V2441.4M772.62 2396.85V2426.7M790.91 2396.85V2360.3M809.2 2396.85V2451.8M827.49 2396.85V2397.2M845.78 2396.85V2411.8M864.07 2396.85V2382.5M882.36 2396.85V2428.4M900.65 2396.85V2336.4M918.94 2396.85V2387.3M937.23 2396.85V2406.8M955.52 2396.85V2416.9M973.81 2396.85V2385.1M992.1 2396.85V2444.6M1010.39 2396.85V2361.8M1028.68 2396.85V2378M1046.97 2396.85V2289.3M1065.26 2396.85V2432.3" stroke="#000" stroke-width="1.42" fill="none"/><rect x="627.7" y="2235.8" width="454.3" height="277.3" fill="none" stroke="#000" stroke-width="1.38"/><clipPath id="c14"><rect x="627.45" y="2235.8" width="454.55" height="277.3"/></clipPath><line clip-path="url(#c14)" x1="627" y1="2291.2" x2="1082" y2="2291.2" stroke="#0000ff" stroke-width="1.3" stroke-dasharray="4.2335 4.2335"/><line clip-path="url(#c14)" x1="627" y1="2502.9" x2="1082" y2="2502.9" stroke="#0000ff" stroke-width="1.3" stroke-dasharray="4.2335 4.2335"/><path d="M618.7 2266.11H627.7M618.7 2309.69H627.7M618.7 2353.27H627.7M618.7 2396.85H627.7M618.7 2440.43H627.7M618.7 2484.01H627.7M717.75 2513.1V2521.6M809.2 2513.1V2521.6M900.65 2513.1V2521.6M992.1 2513.1V2521.6" stroke="#000" stroke-width="1.2" fill="none"/><g transform="translate(607.3 2266.11) rotate(-90)"><text text-anchor="middle" font-size="14.2">0. 5</text><path transform="translate(-1.98 0) scale(0.006934 -0.006934)" d="M763 0L583 0L583 1102.4 Q518 1042.8 412.5 983.2 Q307 923.6 223 893.8 L223 1061.1 Q374 1129.3 484.5 1224.0 Q595 1318.7 645 1409.0 L763 1409.0Z"/></g><g transform="translate(607.3 2309.69) rotate(-90)"><text text-anchor="middle" font-size="14.2">0. 0</text><path transform="translate(-1.98 0) scale(0.006934 -0.006934)" d="M763 0L583 0L583 1102.4 Q518 1042.8 412.5 983.2 Q307 923.6 223 893.8 L223 1061.1 Q374 1129.3 484.5 1224.0 Q595 1318.7 645 1409.0 L763 1409.0Z"/></g><g transform="translate(607.3 2353.27) rotate(-90)"><text text-anchor="middle" font-size="14.2">0.05</text></g><g transform="translate(607.3 2396.85) rotate(-90)"><text text-anchor="middle" font-size="14.2">0.00</text></g><g transform="translate(607.3 2484.01) rotate(-90)"><text text-anchor="middle" font-size="14.2">−0. 0</text><path transform="translate(2.17 0) scale(0.006934 -0.006934)" d="M763 0L583 0L583 1102.4 Q518 1042.8 412.5 983.2 Q307 923.6 223 893.8 L223 1061.1 Q374 1129.3 484.5 1224.0 Q595 1318.7 645 1409.0 L763 1409.0Z"/></g><text x="718.55" y="2546" text-anchor="middle" font-size="16.8">5</text><text x="810.9" y="2546" text-anchor="middle" font-size="16.8"> 0</text><path transform="translate(801.56 2546) scale(0.008203 -0.008203)" d="M763 0L583 0L583 1102.4 Q518 1042.8 412.5 983.2 Q307 923.6 223 893.8 L223 1061.1 Q374 1129.3 484.5 1224.0 Q595 1318.7 645 1409.0 L763 1409.0Z"/><text x="902.55" y="2546" text-anchor="middle" font-size="16.8"> 5</text><path transform="translate(893.21 2546) scale(0.008203 -0.008203)" d="M763 0L583 0L583 1102.4 Q518 1042.8 412.5 983.2 Q307 923.6 223 893.8 L223 1061.1 Q374 1129.3 484.5 1224.0 Q595 1318.7 645 1409.0 L763 1409.0Z"/><text x="993.3" y="2546" text-anchor="middle" font-size="16.8">20</text><text x="842.61" y="2584" font-size="23.0">Lag</text><text transform="translate(580.9 2411.1) rotate(-90)" font-size="22.5" style="font-kerning:none">Partial ACF</text><text x="783.51" y="2210" font-size="25.4" font-weight="bold" xml:space="preserve">Series  rt_LTC_sq</text></g>
</svg></body></html>
